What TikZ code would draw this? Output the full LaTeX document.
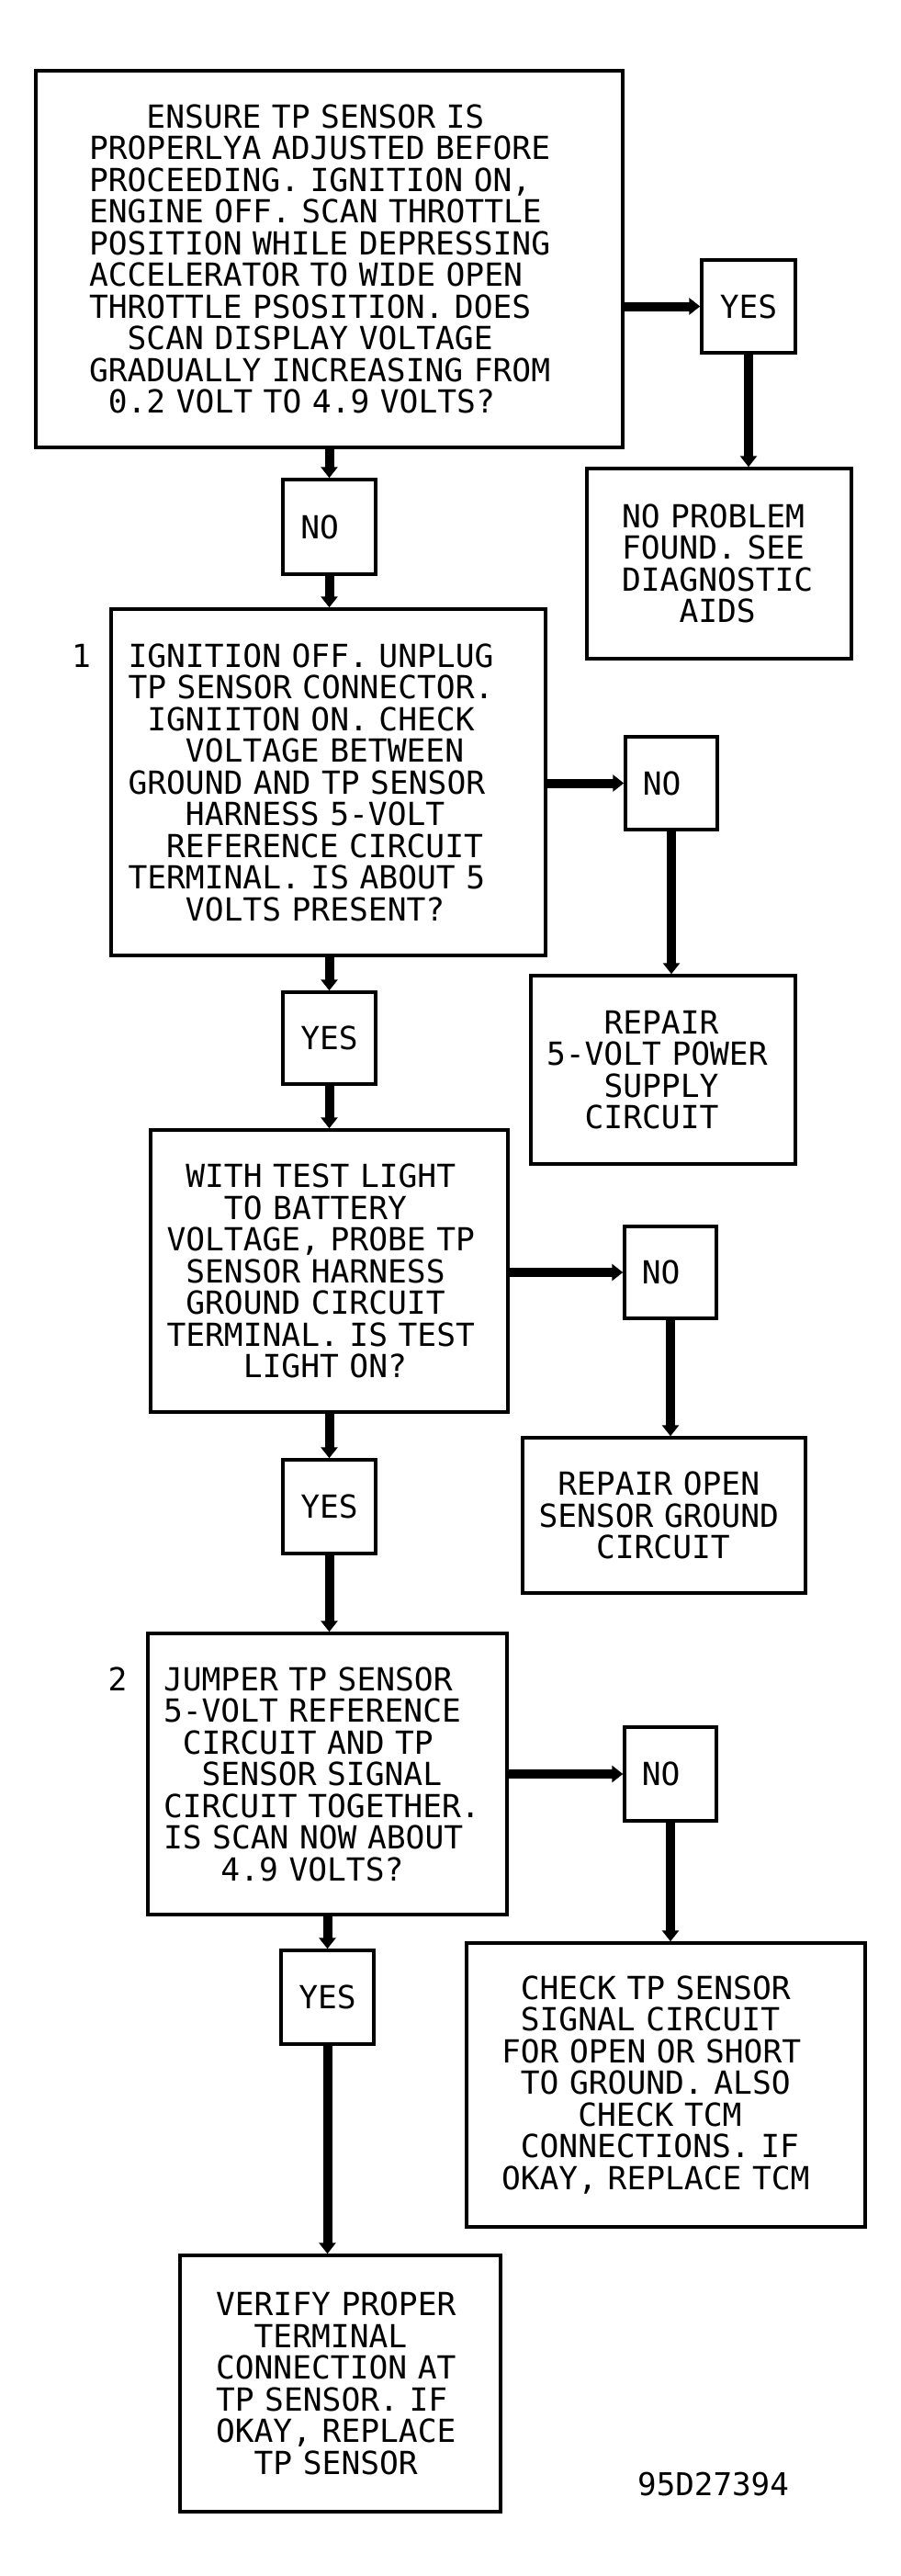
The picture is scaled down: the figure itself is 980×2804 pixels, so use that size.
\documentclass[tikz,border=0pt]{standalone}
\usepackage{fontspec}
\newfontfamily\tfont{DejaVu Sans Mono}
\usetikzlibrary{arrows.meta}
\newcommand\colsp[1]{\leavevmode\hbox to #1\fontcharwd\font`0{}}
\begin{document}
\begin{tikzpicture}[x=1pt,y=-1pt,
  txt/.style={font=\tfont\fontsize{34.6}{34.5}\selectfont},
  box/.style={txt, draw, line width=3.5pt, inner sep=0pt},
  tb/.style={text width=#1, execute at begin node={\rightskip=-500pt plus 1fil\relax}},
  arr/.style={line width=10pt, -{Triangle[width=18pt,length=12pt]}}]
\useasboundingbox (0,0) rectangle (980,2804);
\fill[white] (0,0) rectangle (980,2804);

% main column
\node[box, tb=523pt, minimum width=639pt, minimum height=410pt] (b1) at (358.5,282) {\colsp{3}ENSURE TP SENSOR IS\\
PROPERLYA ADJUSTED BEFORE\\
PROCEEDING. IGNITION ON,\\
ENGINE OFF. SCAN THROTTLE\\
POSITION WHILE DEPRESSING\\
ACCELERATOR TO WIDE OPEN\\
THROTTLE PSOSITION. DOES\\
\colsp{2}SCAN DISPLAY VOLTAGE\\
GRADUALLY INCREASING FROM\\
\colsp{1}0.2 VOLT TO 4.9 VOLTS?};

\node[box, minimum width=102pt, minimum height=101pt] (yes1) at (815,333.5) {YES};
\node[box, tb=212pt, minimum width=288pt, minimum height=207pt] (noprob) at (783,613.5) {NO PROBLEM\\FOUND. SEE\\DIAGNOSTIC\\\colsp{3}AIDS};

\node[box, minimum width=101pt, minimum height=103pt] (no1) at (358.5,573.5) {NO\colsp{1}};

\node[box, tb=436pt, minimum width=473pt, minimum height=377pt] (b2) at (357.5,851.5) {IGNITION OFF. UNPLUG\\
TP SENSOR CONNECTOR.\\
\colsp{1}IGNIITON ON. CHECK\\
\colsp{3}VOLTAGE BETWEEN\\
GROUND AND TP SENSOR\\
\colsp{3}HARNESS 5-VOLT\\
\colsp{2}REFERENCE CIRCUIT\\
TERMINAL. IS ABOUT 5\\
\colsp{3}VOLTS PRESENT?};
\node[txt, inner sep=0pt, anchor=north] (n1) at (88.5,701) {1};

\node[box, minimum width=100pt, minimum height=101pt] (no2) at (731,852.5) {NO\colsp{1}};
\node[box, tb=254pt, minimum width=288pt, minimum height=205pt] (rep5) at (722,1164.5) {\colsp{3}REPAIR\\5-VOLT POWER\\\colsp{3}SUPPLY\\\colsp{2}CIRCUIT};

\node[box, minimum width=101pt, minimum height=100pt] (yes2) at (358.5,1130) {YES};

\node[box, tb=354pt, minimum width=389pt, minimum height=307pt] (b3) at (358.5,1383.5) {\colsp{1}WITH TEST LIGHT\\
\colsp{3}TO BATTERY\\
VOLTAGE, PROBE TP\\
\colsp{1}SENSOR HARNESS\\
\colsp{1}GROUND CIRCUIT\\
TERMINAL. IS TEST\\
\colsp{4}LIGHT ON?};

\node[box, minimum width=100pt, minimum height=100pt] (no3) at (730,1385) {NO\colsp{1}};
\node[box, tb=273pt, minimum width=308pt, minimum height=169pt] (repopen) at (723,1649.5) {\colsp{1}REPAIR OPEN\\SENSOR GROUND\\\colsp{3}CIRCUIT};

\node[box, minimum width=101pt, minimum height=102pt] (yes3) at (358.5,1640) {YES};

\node[box, tb=357pt, minimum width=391pt, minimum height=306pt] (b4) at (356.5,1931) {JUMPER TP SENSOR\\
5-VOLT REFERENCE\\
\colsp{1}CIRCUIT AND TP\\
\colsp{2}SENSOR SIGNAL\\
CIRCUIT TOGETHER.\\
IS SCAN NOW ABOUT\\
\colsp{3}4.9 VOLTS?};
\node[txt, inner sep=0pt, anchor=north] (n2) at (128,1815) {2};

\node[box, minimum width=100pt, minimum height=102pt] (no4) at (730,1931) {NO\colsp{1}};
\node[box, tb=358pt, minimum width=434pt, minimum height=309pt] (check) at (725,2269.5) {\colsp{1}CHECK TP SENSOR\\
\colsp{1}SIGNAL CIRCUIT\\
FOR OPEN OR SHORT\\
\colsp{1}TO GROUND. ALSO\\
\colsp{4}CHECK TCM\\
\colsp{1}CONNECTIONS. IF\\
OKAY, REPLACE TCM};

\node[box, minimum width=101pt, minimum height=102pt] (yes4) at (356.5,2174) {YES};

\node[box, tb=271pt, minimum width=349pt, minimum height=279pt] (final) at (370.5,2594.5) {VERIFY PROPER\\
\colsp{2}TERMINAL\\
CONNECTION AT\\
TP SENSOR. IF\\
OKAY, REPLACE\\
\colsp{2}TP SENSOR};

\node[txt, font=\tfont\fontsize{34.2}{34.5}\selectfont, inner sep=0pt, anchor=north west] (code) at (694,2691) {95D27394};

% connectors
\draw[arr] (b1.east |- yes1.west) -- (yes1.west);
\draw[arr] (yes1.south) -- (yes1.south |- noprob.north);
\draw[arr] (b1.south -| no1.north) -- (no1.north);
\draw[arr] (no1.south) -- (no1.south |- b2.north);
\draw[arr] (b2.east |- no2.west) -- (no2.west);
\draw[arr] (no2.south) -- (no2.south |- rep5.north);
\draw[arr] (b2.south -| yes2.north) -- (yes2.north);
\draw[arr] (yes2.south) -- (yes2.south |- b3.north);
\draw[arr] (b3.east |- no3.west) -- (no3.west);
\draw[arr] (no3.south) -- (no3.south |- repopen.north);
\draw[arr] (b3.south -| yes3.north) -- (yes3.north);
\draw[arr] (yes3.south) -- (yes3.south |- b4.north);
\draw[arr] (b4.east |- no4.west) -- (no4.west);
\draw[arr] (no4.south) -- (no4.south |- check.north);
\draw[arr] (b4.south -| yes4.north) -- (yes4.north);
\draw[arr] (yes4.south) -- (yes4.south |- final.north);
\end{tikzpicture}
\end{document}
